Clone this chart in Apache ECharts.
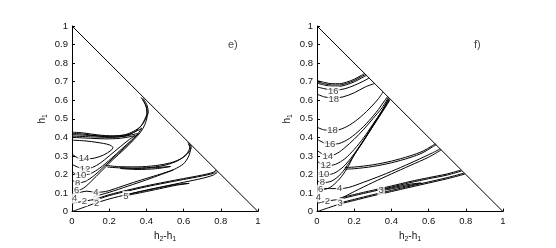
<!DOCTYPE html>
<html><head><meta charset="utf-8">
<script src="https://cdn.jsdelivr.net/npm/echarts@6/dist/echarts.min.js"></script>
<style>html,body{margin:0;padding:0;background:#fff}#c{width:556px;height:248px}</style>
</head><body><div id="c"></div>
<script>
// ---------- tick labels ----------
const xTicks = [0, 0.2, 0.4, 0.6, 0.8, 1];
const yTicks = [0, 0.1, 0.2, 0.3, 0.4, 0.5, 0.6, 0.7, 0.8, 0.9, 1];
const panelNames = ['e)', 'f)'];
const diagonal = [[0, 1], [1, 0]];

// ---------- panel e) contour lines ----------
const e_c14 = [[0,0.31],[0.03,0.29],[0.065,0.283],[0.12,0.288],[0.17,0.305],[0.21,0.33],[0.22,0.345],[0.2,0.36],[0.14,0.372],[0.07,0.381],[0,0.385]];
const e_c12 = [[0,0.255],[0.03,0.24],[0.07,0.23],[0.11,0.238],[0.15,0.26],[0.2,0.3],[0.26,0.35],[0.31,0.39],[0.34,0.41],[0.32,0.405],[0.26,0.395],[0.18,0.392],[0.1,0.395],[0,0.4]];
const e_c10 = [[0,0.215],[0.025,0.2],[0.05,0.195],[0.1,0.205],[0.15,0.235],[0.21,0.285],[0.27,0.34],[0.32,0.385],[0.355,0.42],[0.34,0.418],[0.28,0.405],[0.2,0.4],[0.1,0.403],[0,0.407]];
const e_c8 = [[0,0.17],[0.015,0.16],[0.03,0.154],[0.07,0.162],[0.12,0.195],[0.18,0.25],[0.25,0.315],[0.31,0.37],[0.355,0.42],[0.375,0.45],[0.36,0.44],[0.3,0.415],[0.2,0.406],[0.1,0.41],[0,0.415]];
const e_c6 = [[0,0.13],[0.012,0.12],[0.025,0.115],[0.06,0.125],[0.1,0.16],[0.16,0.22],[0.22,0.28],[0.28,0.335],[0.33,0.385],[0.37,0.43],[0.392,0.47],[0.403,0.51],[0.402,0.55],[0.39,0.585],[0.372,0.615]];
const e_outer1 = [[0,0.428],[0.06,0.424],[0.14,0.413],[0.22,0.408],[0.28,0.413],[0.33,0.432],[0.37,0.46],[0.395,0.497],[0.41,0.537],[0.402,0.577],[0.382,0.61]];
const e_outer2 = [[0,0.421],[0.06,0.418],[0.14,0.407],[0.22,0.402],[0.28,0.407],[0.33,0.426],[0.366,0.455],[0.39,0.495],[0.404,0.535],[0.397,0.573],[0.378,0.607]];
const e_mid1 = [[0.18,0.25],[0.25,0.242],[0.35,0.241],[0.45,0.248],[0.53,0.263],[0.59,0.287],[0.625,0.316],[0.641,0.345],[0.636,0.362],[0.622,0.372]];
const e_mid2 = [[0.19,0.24],[0.3,0.234],[0.4,0.236],[0.5,0.25],[0.57,0.275],[0.615,0.31],[0.633,0.345],[0.626,0.366]];
const e_mid3 = [[0.26,0.232],[0.35,0.227],[0.45,0.231],[0.53,0.243],[0.45,0.237],[0.35,0.233],[0.26,0.236]];
const e_c4 = [[0,0.09],[0.02,0.095],[0.05,0.105],[0.08,0.11],[0.129,0.104],[0.18,0.108],[0.25,0.13],[0.33,0.157],[0.42,0.185],[0.5,0.21],[0.55,0.228],[0.6,0.258],[0.628,0.3],[0.637,0.34],[0.628,0.364]];
const e_c3 = [[0.115,0.08],[0.2,0.104],[0.3,0.137],[0.4,0.171],[0.48,0.2],[0.545,0.224]];
const e_c2 = [[0,0.045],[0.03,0.05],[0.066,0.056],[0.1,0.062],[0.12,0.066]];
const e_low1 = [[0.11,0.062],[0.2,0.091],[0.3,0.116],[0.4,0.139],[0.5,0.159],[0.6,0.178],[0.7,0.197],[0.76,0.212],[0.774,0.224]];
const e_low1b = [[0.115,0.058],[0.2,0.086],[0.3,0.111],[0.4,0.134],[0.5,0.154],[0.6,0.173],[0.7,0.192],[0.762,0.207],[0.778,0.219]];
const e_low2 = [[0,0],[0.05,0.018],[0.11,0.04],[0.2,0.068],[0.3,0.093],[0.4,0.116],[0.5,0.137],[0.6,0.158],[0.7,0.179],[0.76,0.197],[0.782,0.212]];
const e_low3 = [[0.29,0.086],[0.38,0.104],[0.47,0.123],[0.56,0.142],[0.63,0.152],[0.56,0.146],[0.47,0.129],[0.38,0.11],[0.29,0.091]];

// ---------- panel f) contour lines ----------
const f_top1 = [[0,0.706],[0.04,0.696],[0.08,0.689],[0.12,0.689],[0.16,0.698],[0.2,0.713],[0.24,0.735],[0.258,0.745]];
const f_top2 = [[0,0.699],[0.04,0.689],[0.08,0.682],[0.12,0.682],[0.16,0.691],[0.2,0.706],[0.24,0.728],[0.262,0.739]];
const f_top3 = [[0,0.692],[0.04,0.682],[0.08,0.675],[0.12,0.675],[0.16,0.684],[0.2,0.699],[0.24,0.72],[0.266,0.734]];
const f_c16a = [[0,0.672],[0.05,0.66],[0.1,0.655],[0.15,0.662],[0.2,0.68],[0.25,0.703],[0.28,0.72]];
const f_c18a = [[0,0.633],[0.04,0.618],[0.09,0.612],[0.14,0.618],[0.2,0.64],[0.26,0.672],[0.31,0.69]];
const f_c18b = [[0,0.455],[0.04,0.44],[0.1,0.438],[0.16,0.458],[0.22,0.498],[0.28,0.553],[0.33,0.608],[0.355,0.645]];
const f_c16b = [[0,0.39],[0.04,0.37],[0.1,0.364],[0.16,0.385],[0.22,0.43],[0.28,0.49],[0.33,0.55],[0.365,0.6],[0.38,0.62]];
const f_c14 = [[0,0.33],[0.03,0.31],[0.065,0.3],[0.11,0.315],[0.15,0.345],[0.2,0.39],[0.25,0.442],[0.3,0.5],[0.35,0.56],[0.383,0.615]];
const f_c12 = [[0,0.273],[0.025,0.255],[0.05,0.247],[0.1,0.255],[0.15,0.285],[0.2,0.335],[0.25,0.397],[0.3,0.47],[0.35,0.545],[0.386,0.611]];
const f_c10 = [[0,0.215],[0.02,0.203],[0.04,0.198],[0.09,0.206],[0.14,0.24],[0.18,0.285],[0.22,0.34],[0.26,0.4],[0.3,0.465],[0.35,0.543],[0.388,0.608]];
const f_c8 = [[0,0.166],[0.015,0.16],[0.03,0.156],[0.08,0.165],[0.13,0.205],[0.17,0.26],[0.21,0.32],[0.26,0.395],[0.3,0.459],[0.35,0.538],[0.39,0.604]];
const f_c6 = [[0,0.125],[0.01,0.12],[0.02,0.117],[0.07,0.13],[0.12,0.175],[0.16,0.23],[0.2,0.305],[0.25,0.382],[0.3,0.459],[0.35,0.535],[0.392,0.601]];
const f_mid1 = [[0.15,0.238],[0.2,0.24],[0.3,0.252],[0.4,0.272],[0.5,0.3],[0.57,0.326],[0.62,0.355],[0.636,0.366]];
const f_mid2 = [[0.15,0.229],[0.2,0.231],[0.3,0.243],[0.4,0.263],[0.5,0.291],[0.57,0.318],[0.62,0.348],[0.641,0.36]];
const f_c4 = [[0.03,0.125],[0.08,0.124],[0.122,0.124],[0.17,0.13],[0.25,0.158],[0.35,0.196],[0.45,0.238],[0.55,0.283],[0.62,0.316],[0.662,0.338]];
const f_c4b = [[0.12,0.066],[0.2,0.108],[0.3,0.157],[0.4,0.203],[0.5,0.248],[0.6,0.293],[0.667,0.332]];
const f_c2 = [[0,0.045],[0.03,0.052],[0.056,0.057],[0.09,0.062],[0.12,0.066]];
const f_low1 = [[0.12,0.072],[0.2,0.092],[0.3,0.115],[0.4,0.138],[0.5,0.162],[0.6,0.183],[0.7,0.203],[0.774,0.224]];
const f_low1b = [[0.12,0.066],[0.2,0.086],[0.3,0.109],[0.4,0.132],[0.5,0.156],[0.6,0.177],[0.7,0.197],[0.778,0.219]];
const f_low2 = [[0,0],[0.06,0.02],[0.12,0.04],[0.2,0.06],[0.3,0.085],[0.4,0.108],[0.5,0.131],[0.6,0.154],[0.7,0.177],[0.795,0.202]];
const f_low2b = [[0.12,0.046],[0.2,0.066],[0.3,0.091],[0.4,0.114],[0.5,0.137],[0.6,0.16],[0.7,0.183],[0.79,0.207]];
const f_loop3 = [[0.345,0.112],[0.42,0.126],[0.5,0.142],[0.56,0.154],[0.5,0.148],[0.42,0.132],[0.345,0.117]];

// ---------- contour labels: [x, y, text] ----------
const labelsE = [[0.065,0.287,'14'],[0.07,0.23,'12'],[0.048,0.195,'10'],[0.03,0.154,'8'],[0.025,0.116,'6'],[0.014,0.07,'4'],[0.129,0.104,'4'],[0.066,0.056,'2'],[0.133,0.047,'2'],[0.29,0.084,'5']];
const labelsF = [[0.088,0.648,'16'],[0.09,0.607,'18'],[0.083,0.437,'18'],[0.07,0.362,'16'],[0.058,0.3,'14'],[0.047,0.249,'12'],[0.038,0.2,'10'],[0.029,0.157,'8'],[0.02,0.118,'6'],[0.122,0.124,'4'],[0.007,0.077,'4'],[0.056,0.057,'2'],[0.124,0.047,'3'],[0.345,0.114,'3']];
const panelPos = [[0.865, 0.9], [0.862, 0.9]];

const linesE = [e_c14,e_c12,e_c10,e_c8,e_c6,e_outer1,e_outer2,e_mid1,e_mid2,e_mid3,e_c4,e_c3,e_c2,e_low1,e_low1b,e_low2,e_low3];
const linesF = [f_top1,f_top2,f_top3,f_c16a,f_c18a,f_c18b,f_c16b,f_c14,f_c12,f_c10,f_c8,f_c6,f_mid1,f_mid2,f_c4,f_c4b,f_c2,f_low1,f_low1b,f_low2,f_low2b,f_loop3];

const FONT = 'Liberation Sans, Arial, Helvetica, sans-serif';
const grids = [
  {left: 72, top: 26, width: 186, height: 186},
  {left: 317, top: 26, width: 186, height: 186}
];
function fmt(v){ return String(+v.toFixed(1)); }
const xAxes = grids.map((g,i)=>({
  type:'value', gridIndex:i, min:xTicks[0], max:xTicks[xTicks.length-1], interval:xTicks[1]-xTicks[0],
  axisLine:{show:true,onZero:false,lineStyle:{color:'#000',width:1}},
  axisTick:{show:true,inside:true,length:3,lineStyle:{color:'#000'}},
  axisLabel:{fontSize:9.5,color:'#111',fontFamily:FONT,margin:5,formatter:fmt},
  splitLine:{show:false},
  name:'{i|h}{s|2}{i|-h}{s|1}', nameLocation:'middle', nameGap:13,
  nameTextStyle:{color:'#111',fontFamily:FONT,rich:{i:{fontSize:10,fontFamily:FONT,color:'#111'},s:{fontSize:7,fontFamily:FONT,color:'#111',padding:[6,0,0,0]}}}
}));
const yAxes = grids.map((g,i)=>({
  type:'value', gridIndex:i, min:yTicks[0], max:yTicks[yTicks.length-1], interval:yTicks[1]-yTicks[0],
  axisLine:{show:true,onZero:false,lineStyle:{color:'#000',width:1}},
  axisTick:{show:true,inside:true,length:3,lineStyle:{color:'#000'}},
  axisLabel:{fontSize:9.5,color:'#111',fontFamily:FONT,margin:4,formatter:fmt},
  splitLine:{show:false},
  name:'{i|h}{s|1}', nameLocation:'middle', nameGap:23, nameRotate:90,
  nameTextStyle:{color:'#111',fontFamily:FONT,rich:{i:{fontSize:10,fontFamily:FONT,color:'#111'},s:{fontSize:7,fontFamily:FONT,color:'#111',padding:[6,0,0,0]}}}
}));
const series = [];
function addLine(data, i, smooth){
  series.push({type:'line', xAxisIndex:i, yAxisIndex:i, data:data, symbol:'none', smooth:smooth,
    lineStyle:{color:'#000',width:1}, silent:true, animation:false, clip:false, z:2});
}
[linesE, linesF].forEach((arr,i)=>{
  addLine(diagonal, i, false);
  arr.forEach(d=>addLine(d, i, 0.3));
});
[labelsE, labelsF].forEach((arr,i)=>{
  series.push({type:'scatter', xAxisIndex:i, yAxisIndex:i, data:arr, symbolSize:1, itemStyle:{color:'rgba(0,0,0,0)'},
    silent:true, animation:false, z:5,
    label:{show:true, position:'inside', formatter:p=>p.data[2], fontSize:9.5, fontFamily:FONT, color:'#111',
      backgroundColor:'#fff', padding:[0,1]}});
});
panelPos.forEach((p,i)=>{
  series.push({type:'scatter', xAxisIndex:i, yAxisIndex:i, data:[[p[0],p[1],panelNames[i]]], symbolSize:1,
    itemStyle:{color:'rgba(0,0,0,0)'}, silent:true, animation:false, z:5,
    label:{show:true, position:'inside', formatter:q=>q.data[2], fontSize:11, fontFamily:FONT, color:'#111'}});
});
const chart = echarts.init(document.getElementById('c'), null, {renderer:'canvas'});
chart.setOption({backgroundColor:'#fff', animation:false, grid:grids, xAxis:xAxes, yAxis:yAxes, series:series});
</script></body></html>
